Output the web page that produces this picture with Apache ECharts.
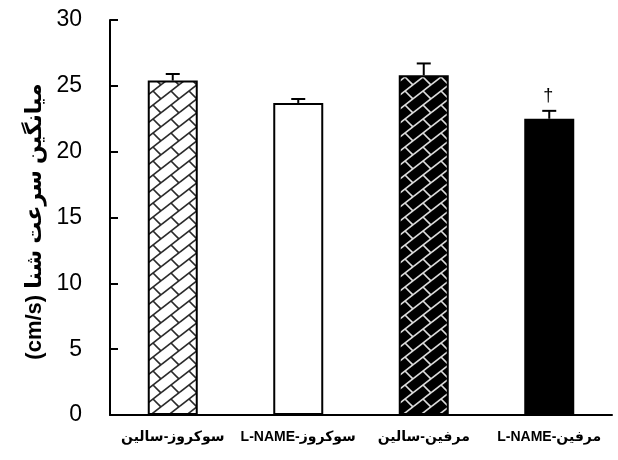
<!DOCTYPE html>
<html>
<head>
<meta charset="utf-8">
<script src="https://cdn.jsdelivr.net/npm/echarts@6/dist/echarts.min.js"></script>
<style>
  html, body { margin: 0; padding: 0; background: #fff; }
  #main { width: 618px; height: 460px; }
</style>
</head>
<body>
<div id="main"></div>
<script>
// groups, left to right
var categories = ['سوکروز-سالین', 'L-NAME-سوکروز', 'مرفین-سالین', 'L-NAME-مرفین'];
// mean swim speed (cm/s) and upper error (SEM)
var means = [25.4, 23.7, 25.8, 22.5];
var errors = [0.5, 0.3, 0.9, 0.6];
// significance marks above bars
var marks = ['', '', '', '†'];
var yTicks = { min: 0, max: 30, step: 5 };

// brick-like diagonal hatch, drawn into a small repeating tile
function brickPattern(bg, fg) {
    var w = 18, h = 14;
    var c = document.createElement('canvas');
    c.width = w; c.height = h;
    var ctx = c.getContext('2d');
    ctx.fillStyle = bg;
    ctx.fillRect(0, 0, w, h);
    ctx.strokeStyle = fg;
    ctx.lineWidth = 1.7;
    var segs = [
        [0, h, w, 0],
        [w / 2, h / 2, w / 2 + 7.9, h / 2 + 7.9]
    ];
    for (var dx = -w; dx <= w; dx += w) {
        for (var dy = -h; dy <= h; dy += h) {
            segs.forEach(function (s) {
                ctx.beginPath();
                ctx.moveTo(s[0] + dx, s[1] + dy);
                ctx.lineTo(s[2] + dx, s[3] + dy);
                ctx.stroke();
            });
        }
    }
    return { image: c, repeat: 'repeat' };
}

var fills = [
    brickPattern('#ffffff', '#2a2a2a'),
    '#ffffff',
    brickPattern('#000000', '#dddddd'),
    '#000000'
];

var barData = means.map(function (v, i) {
    return { value: v, itemStyle: { color: fills[i] } };
});
var errData = means.map(function (v, i) {
    return [i, v, errors[i], marks[i]];
});

var myChart = echarts.init(document.getElementById('main'));
var option = {
    animation: false,
    backgroundColor: '#fff',
    grid: {
        left: 110,
        right: 6,
        top: 20,
        bottom: 45
    },
    xAxis: {
        type: 'category',
        data: categories,
        axisLine: { lineStyle: { color: '#000', width: 2 } },
        axisTick: { show: false },
        axisLabel: {
            interval: 0,
            color: '#000',
            fontSize: 14,
            fontWeight: 'bold',
            fontFamily: 'Liberation Sans, Arial, DejaVu Sans',
            margin: 15
        }
    },
    yAxis: {
        type: 'value',
        min: yTicks.min,
        max: yTicks.max,
        interval: yTicks.step,
        name: '(cm/s) میانگین سرعت شنا',
        nameLocation: 'middle',
        nameRotate: 90,
        nameGap: 58,
        nameTextStyle: {
            color: '#000',
            fontSize: 22,
            fontWeight: 'bold',
            fontFamily: 'Liberation Sans, Arial, DejaVu Sans',
            padding: [0, 0, 0, -8]
        },
        axisLine: { show: true, lineStyle: { color: '#000', width: 2 } },
        axisTick: { show: true, inside: true, length: 8, lineStyle: { color: '#000', width: 2 } },
        splitLine: { show: false },
        axisLabel: {
            color: '#000',
            fontSize: 23,
            fontFamily: 'Liberation Sans, Arial',
            margin: 28
        }
    },
    series: [{
        type: 'bar',
        data: barData,
        barWidth: 50,
        itemStyle: { borderColor: '#000', borderWidth: 2 }
    }, {
        type: 'custom',
        data: errData,
        z: 3,
        renderItem: function (params, api) {
            var idx = api.value(0);
            var base = api.coord([idx, api.value(1)]);
            var top = api.coord([idx, api.value(1) + api.value(2)]);
            var mark = marks[params.dataIndex];
            var children = [{
                type: 'line',
                shape: { x1: base[0], y1: base[1], x2: top[0], y2: top[1] },
                style: { stroke: '#000', lineWidth: 2 }
            }, {
                type: 'line',
                shape: { x1: top[0] - 7, y1: top[1], x2: top[0] + 7, y2: top[1] },
                style: { stroke: '#000', lineWidth: 2 }
            }];
            if (mark) {
                children.push({
                    type: 'text',
                    style: {
                        text: mark,
                        x: top[0] - 1,
                        y: top[1] - 6,
                        align: 'center',
                        verticalAlign: 'bottom',
                        fill: '#000',
                        font: '18px Liberation Sans, Arial'
                    }
                });
            }
            return { type: 'group', children: children };
        }
    }]
};
myChart.setOption(option);
</script>
</body>
</html>
